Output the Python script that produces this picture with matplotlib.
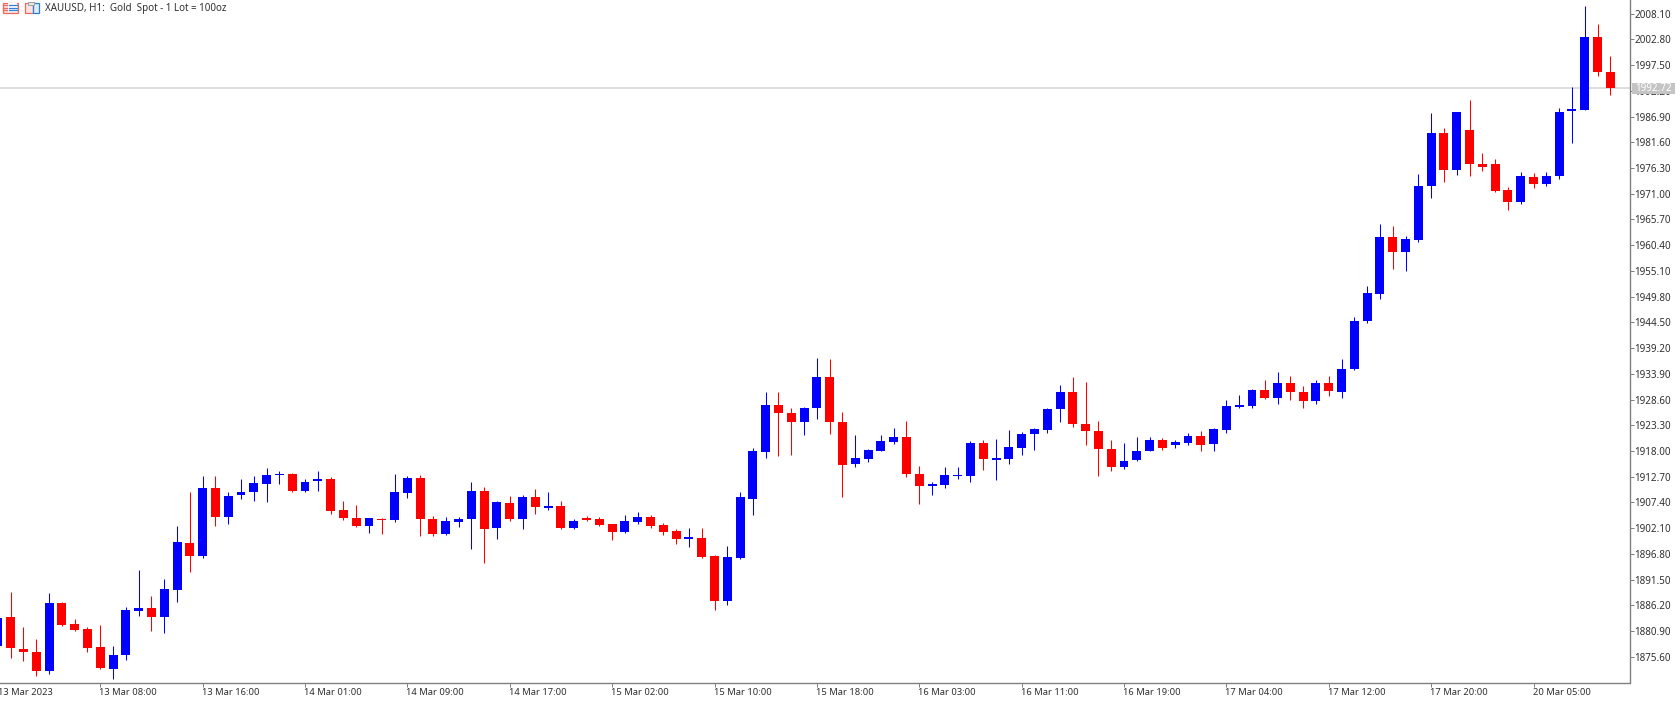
import numpy as np
import matplotlib
matplotlib.use('Agg')
import matplotlib.pyplot as plt
from matplotlib.patches import Rectangle
from matplotlib.transforms import ScaledTranslation

plt.rcParams['font.family'] = ['Noto Sans', 'DejaVu Sans']

# Hourly XAUUSD candles
opens = [1877.9, 1883.7, 1877.3, 1876.6, 1872.6, 1886.7, 1882.4, 1881.3, 1877.6, 1873.1,
         1875.9, 1885.1, 1885.6, 1883.8, 1889.4, 1899.0, 1896.3, 1910.4, 1904.5, 1908.9,
         1909.5, 1911.3, 1913.0, 1913.3, 1909.8, 1911.9, 1912.2, 1905.8, 1904.1, 1902.5,
         1904.0, 1903.8, 1909.3, 1912.4, 1904.0, 1900.9, 1903.4, 1903.9, 1909.8, 1902.1,
         1907.3, 1903.9, 1908.5, 1906.3, 1906.7, 1902.1, 1904.2, 1904.0, 1902.9, 1901.4,
         1903.4, 1904.3, 1902.7, 1901.5, 1899.8, 1900.1, 1896.3, 1887.1, 1896.0, 1908.2,
         1917.7, 1927.5, 1925.9, 1924.0, 1926.8, 1933.3, 1924.0, 1915.4, 1916.3, 1918.0,
         1919.9, 1920.9, 1913.2, 1910.8, 1911.0, 1912.8, 1912.8, 1919.6, 1916.2, 1916.4,
         1918.7, 1921.5, 1922.3, 1926.6, 1930.1, 1923.5, 1922.2, 1918.5, 1914.6, 1916.1,
         1918.1, 1920.3, 1919.2, 1919.7, 1921.1, 1919.4, 1922.3, 1927.1, 1927.3, 1930.6,
         1929.0, 1932.1, 1930.1, 1928.4, 1932.0, 1930.2, 1934.8, 1944.7, 1950.3, 1962.0,
         1959.1, 1961.5, 1972.5, 1983.5, 1975.9, 1984.1, 1977.2, 1977.2, 1971.7, 1969.3,
         1974.5, 1973.1, 1974.6, 1988.0, 1988.3, 2003.2, 1996.1]
closes = [1883.6, 1877.4, 1876.5, 1872.6, 1886.7, 1882.1, 1881.1, 1877.5, 1873.2, 1876.0,
          1885.2, 1885.6, 1883.8, 1889.5, 1899.2, 1896.3, 1910.4, 1904.4, 1908.8, 1909.5,
          1911.4, 1913.0, 1913.3, 1909.8, 1911.7, 1912.2, 1905.7, 1904.1, 1902.5, 1904.1,
          1903.7, 1909.5, 1912.4, 1903.9, 1900.8, 1903.5, 1904.0, 1909.8, 1901.9, 1907.5,
          1903.9, 1908.5, 1906.4, 1906.7, 1902.1, 1903.5, 1903.8, 1902.7, 1901.4, 1903.5,
          1904.3, 1902.5, 1901.4, 1899.9, 1900.2, 1896.2, 1887.1, 1896.1, 1908.5, 1917.9,
          1927.5, 1925.9, 1924.0, 1926.9, 1933.3, 1924.0, 1915.2, 1916.5, 1918.3, 1920.0,
          1920.9, 1913.3, 1910.7, 1911.1, 1913.0, 1913.1, 1919.6, 1916.3, 1916.5, 1918.8,
          1921.6, 1922.5, 1926.7, 1930.1, 1923.5, 1922.2, 1918.4, 1914.6, 1916.0, 1918.1,
          1920.3, 1918.7, 1919.8, 1921.1, 1919.2, 1922.5, 1927.3, 1927.4, 1930.6, 1929.0,
          1932.1, 1930.1, 1928.3, 1932.0, 1930.4, 1934.8, 1944.7, 1950.5, 1962.0, 1958.9,
          1961.7, 1972.6, 1983.5, 1975.9, 1987.9, 1977.1, 1976.6, 1971.6, 1969.3, 1974.7,
          1973.1, 1974.7, 1987.9, 1988.4, 2003.2, 1996.0, 1992.72]
highs = [1883.6, 1889.0, 1881.8, 1879.3, 1888.7, 1886.8, 1883.4, 1881.7, 1882.1, 1877.8,
         1885.9, 1893.5, 1888.2, 1891.6, 1902.5, 1909.6, 1912.8, 1912.9, 1909.5, 1912.2,
         1912.9, 1914.4, 1913.8, 1913.4, 1912.2, 1913.9, 1912.6, 1907.8, 1906.9, 1904.2,
         1904.1, 1913.3, 1912.9, 1913.0, 1904.6, 1904.3, 1904.5, 1911.7, 1910.6, 1907.6,
         1908.7, 1908.9, 1910.1, 1909.6, 1907.6, 1903.9, 1904.6, 1904.5, 1903.0, 1904.8,
         1905.4, 1904.8, 1903.2, 1901.9, 1902.2, 1902.1, 1896.6, 1898.4, 1909.5, 1918.7,
         1930.1, 1930.2, 1926.8, 1927.1, 1937.2, 1937.0, 1926.1, 1921.3, 1918.4, 1921.2,
         1922.7, 1924.2, 1915.0, 1911.6, 1914.7, 1914.7, 1920.0, 1920.2, 1920.5, 1922.3,
         1922.0, 1922.8, 1926.9, 1931.7, 1933.2, 1932.2, 1924.2, 1920.3, 1919.7, 1920.9,
         1920.9, 1920.6, 1920.3, 1921.8, 1922.1, 1922.7, 1928.6, 1929.5, 1930.8, 1932.6,
         1934.2, 1933.5, 1931.3, 1932.6, 1933.4, 1937.0, 1945.6, 1952.0, 1964.7, 1964.4,
         1962.2, 1975.1, 1987.6, 1984.5, 1987.9, 1990.4, 1979.5, 1978.2, 1972.4, 1975.4,
         1975.3, 1975.4, 1988.6, 1993.0, 2009.7, 2006.0, 1999.3]
lows = [1877.9, 1875.3, 1874.7, 1871.7, 1872.0, 1882.0, 1881.0, 1876.6, 1873.1, 1871.1,
        1875.0, 1884.0, 1880.9, 1880.5, 1886.9, 1893.1, 1896.0, 1902.5, 1903.0, 1908.1,
        1907.6, 1907.5, 1911.3, 1909.5, 1909.5, 1909.8, 1905.0, 1903.7, 1902.3, 1901.2,
        1901.0, 1903.4, 1908.4, 1900.4, 1900.4, 1900.6, 1902.4, 1897.9, 1895.0, 1899.8,
        1903.6, 1901.9, 1905.0, 1905.8, 1901.9, 1902.0, 1903.6, 1902.6, 1899.6, 1901.2,
        1903.0, 1902.1, 1900.6, 1898.8, 1898.2, 1896.0, 1885.2, 1886.3, 1895.7, 1904.9,
        1916.6, 1917.0, 1917.2, 1921.2, 1924.6, 1921.5, 1908.6, 1914.6, 1915.7, 1917.9,
        1919.5, 1912.7, 1907.1, 1908.9, 1910.3, 1912.3, 1911.7, 1914.1, 1912.1, 1915.4,
        1917.2, 1918.3, 1921.8, 1924.0, 1923.0, 1919.3, 1912.9, 1913.9, 1914.2, 1915.9,
        1917.9, 1918.3, 1918.7, 1919.2, 1918.0, 1917.9, 1921.8, 1926.8, 1926.9, 1928.8,
        1927.6, 1928.6, 1926.9, 1927.7, 1929.4, 1928.9, 1934.7, 1944.3, 1949.4, 1955.5,
        1955.0, 1961.1, 1970.1, 1973.4, 1974.9, 1974.7, 1975.6, 1971.4, 1967.7, 1968.8,
        1972.1, 1972.6, 1974.0, 1981.5, 1988.2, 1995.3, 1991.4]

price_ticks = [2008.10, 2002.80, 1997.50, 1992.20, 1986.90, 1981.60, 1976.30, 1971.00, 1965.70,
               1960.40, 1955.10, 1949.80, 1944.50, 1939.20, 1933.90, 1928.60, 1923.30, 1918.00,
               1912.70, 1907.40, 1902.10, 1896.80, 1891.50, 1886.20, 1880.90, 1875.60]
time_labels = ['13 Mar 2023', '13 Mar 08:00', '13 Mar 16:00', '14 Mar 01:00', '14 Mar 09:00',
               '14 Mar 17:00', '15 Mar 02:00', '15 Mar 10:00', '15 Mar 18:00', '16 Mar 03:00',
               '16 Mar 11:00', '16 Mar 19:00', '17 Mar 04:00', '17 Mar 12:00', '17 Mar 20:00',
               '20 Mar 05:00']
time_every = 8  # one time label every 8 candles
last_price = 1992.72
title = 'XAUUSD, H1:  Gold  Spot - 1 Lot = 100oz'

W, H = 1680, 702
AXIS_X, AXIS_Y = 1629.5, 683
GREY = '#808080'
TEXT = '#303030'
FONT = 7.1
TIME_FONT = 6.75

fig = plt.figure(figsize=(W / 100, H / 100), dpi=100, facecolor='white')
ax = fig.add_axes([0, 1 - AXIS_Y / H, AXIS_X / W, AXIS_Y / H])

o = np.array(opens)
c = np.array(closes)
hi = np.array(highs)
lo = np.array(lows)
x = np.arange(len(o))
up = c >= o
colors = np.where(up, '#0000ff', '#ff0000')

ax.axhline(last_price, color='#dedede', lw=1.4, zorder=1)
ax.vlines(x, lo, hi, colors=colors, lw=0.75, zorder=2)
ax.bar(x, np.abs(c - o), bottom=np.minimum(o, c), width=0.70, color=colors, lw=0, zorder=3)

for side in ['top', 'left']:
    ax.spines[side].set_visible(False)
for side in ['right', 'bottom']:
    ax.spines[side].set_color(GREY)
    ax.spines[side].set_linewidth(1.0)

ax.yaxis.tick_right()
ax.set_yticks(price_ticks)
ax.set_yticklabels(['%.2f' % p for p in price_ticks], fontsize=FONT, color=TEXT)
ax.tick_params(axis='y', length=2.9, width=0.72, color=GREY, pad=0.8)

# the first time mark sits just left of the view, so it gets its own text below
tick_pos = x[::time_every][:len(time_labels)]
ax.set_xticks(tick_pos[1:])
ax.set_xticklabels(time_labels[1:], fontsize=TIME_FONT, color=TEXT, ha='left')
ax.tick_params(axis='x', length=2.9, width=0.72, color=GREY, pad=0.4)
nudge = ScaledTranslation(-1.0 / 100, 0, fig.dpi_scale_trans)
for label in ax.get_xticklabels():
    label.set_transform(label.get_transform() + nudge)

# limits go last: set_xticks can widen the view
ax.set_xlim(0.167, 127.5)
ax.set_ylim(1870.2, 2010.92)

ax.annotate(time_labels[0], xy=(tick_pos[0], 0), xycoords=ax.get_xaxis_transform(),
            xytext=(0, -3.3), textcoords='offset points', ha='left', va='top',
            fontsize=TIME_FONT, color=TEXT, annotation_clip=False)

# Pixel-space overlay for the header icons and the last-price tag
over = fig.add_axes([0, 0, 1, 1], facecolor='none')
over.set_xlim(0, W)
over.set_ylim(H, 0)
over.axis('off')

over.add_patch(Rectangle((1632, 83), 43, 11, fc='#c4c4c4', ec='none', zorder=5))
over.text(1653.5, 88.8, '%.2f' % last_price, color='white', fontsize=FONT, ha='center', va='center', zorder=6)

over.text(45, 8.3, title, color=TEXT, fontsize=FONT, ha='left', va='center')

# Chart-window icons
over.add_patch(Rectangle((2.5, 2.5), 15, 10, fc='#fbe3e0', ec='#ee6a5f', lw=0.9))
over.add_patch(Rectangle((8, 3), 9, 9, fc='#ffffff', ec='none'))
for yy in [5, 7.5, 10]:
    over.plot([9, 17], [yy, yy], color='#2f7fd4', lw=0.9)
    over.plot([3, 7], [yy, yy], color='#ee6a5f', lw=0.9)
over.add_patch(Rectangle((24.5, 3), 8, 10, fc='#fbe3e0', ec='#ee6a5f', lw=0.9))
over.add_patch(Rectangle((32.5, 3), 6, 10, fc='#dcecfa', ec='#2f7fd4', lw=0.9))
over.add_patch(Rectangle((28, 1.5), 6, 3, fc='#e6e6e6', ec='#a0a0a0', lw=0.7))

fig.savefig('out.png', dpi=100, facecolor='white')
